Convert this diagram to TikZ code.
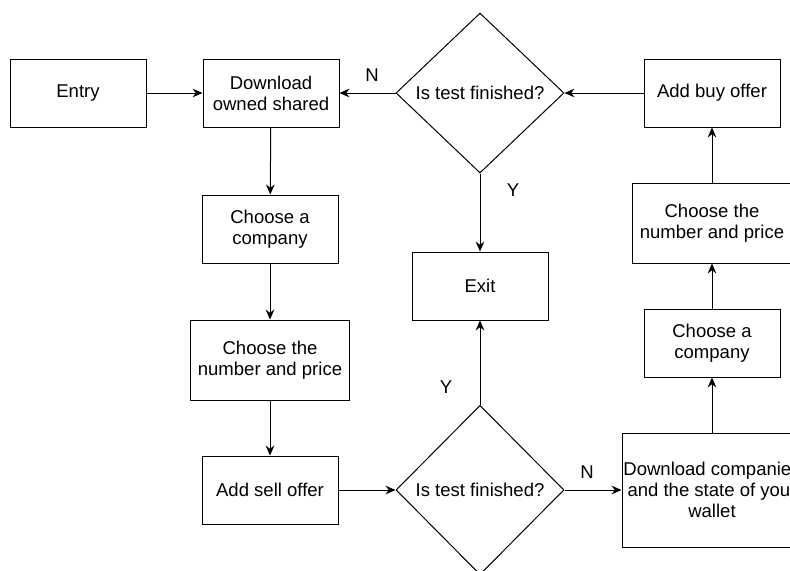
\documentclass[tikz,border=0pt]{standalone}
\usepackage{fontspec}
\setmainfont{Liberation Sans}
\usetikzlibrary{shapes.geometric, arrows.meta}

\tikzset{
  stepbox/.style={rectangle, draw, line width=0.75pt, align=center, inner sep=0pt,
    minimum width=102pt, minimum height=51pt},
  widebox/.style={stepbox, minimum width=119pt, minimum height=60pt},
  question/.style={diamond, draw, line width=0.75pt, inner sep=0pt,
    minimum width=126pt, minimum height=120pt},
  flow/.style={-{Stealth[length=7.5pt, width=6.5pt, inset=2.5pt]}, line width=0.75pt},
}

\begin{document}
\begin{tikzpicture}[x=0.75pt, y=-0.75pt, font=\fontsize{13.9}{15.8}\selectfont]
\useasboundingbox (0,0) rectangle (790,571);

% selling branch
\node[stepbox] (entry) at (78, 93) {Entry};
\node[stepbox] (owned) at (271, 93) {Download\\owned shared};
\node[stepbox] (sellcompany) at (270, 229) {Choose a\\company};
\node[widebox] (sellprice) at (270, 360) {Choose the\\number and price};
\node[stepbox] (sell) at (270, 490) {Add sell offer};

% tests and exit
\node[question] (testtop) at (480, 93) {Is test finished?};
\node[stepbox] (exit) at (480, 286) {Exit};
\node[question, minimum height=127pt] (testbottom) at (480, 490) {Is test finished?};

% buying branch
\node[stepbox, minimum width=135pt, minimum height=85.5pt] (wallet) at (712, 490)
  {Download companies\\and the state of your\\wallet};
\node[stepbox] (buycompany) at (712, 343) {Choose a\\company};
\node[widebox] (buyprice) at (712, 223) {Choose the\\number and price};
\node[stepbox] (buy) at (712, 93) {Add buy offer};

\draw[flow] (entry) -- (owned);
\foreach \a/\b in {owned/sellcompany, sellcompany/sellprice, sellprice/sell,
                   wallet/buycompany, buycompany/buyprice, buyprice/buy}
  \draw[flow] (\a) -- (\b);
\draw[flow] (sell) -- (testbottom);
\draw[flow] (buy) -- (testtop);
\draw[flow] (testtop) -- (owned);
\draw[flow] (testtop) -- (exit);
\draw[flow] (testbottom) -- (exit);
\draw[flow] (testbottom) -- (wallet);

\node (ntop) at (372, 75) {N};
\node (ytop) at (513, 190) {Y};
\node (ybottom) at (446, 387) {Y};
\node (nbottom) at (587, 472) {N};
\end{tikzpicture}
\end{document}
